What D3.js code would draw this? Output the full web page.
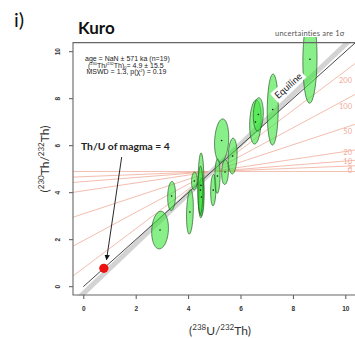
<!DOCTYPE html>
<html>
<head>
<meta charset="utf-8">
<script src="https://cdn.jsdelivr.net/npm/d3@7.9.0/dist/d3.min.js"></script>
<style>
  body { margin: 0; background: #fff; }
  svg { display: block; }
</style>
</head>
<body>
<svg id="chart" width="355" height="338"></svg>
<script>
// ─────────── DATA ───────────
// (238U/232Th) and (230Th/232Th) activity ratios with 1σ errors
const ratioU = [2.93, 3.37, 4.07, 4.24, 4.49, 4.51, 4.47, 4.96, 5.12, 5.28, 5.41, 5.70, 6.57, 6.68, 7.23, 8.65];
const ratioTh = [2.41, 3.86, 3.18, 4.50, 4.31, 3.82, 4.11, 4.11, 4.71, 6.22, 4.88, 5.56, 7.01, 7.33, 7.54, 9.68];
const errU = [0.32, 0.15, 0.13, 0.11, 0.115, 0.10, 0.095, 0.10, 0.10, 0.27, 0.13, 0.17, 0.22, 0.19, 0.21, 0.27];
const errTh = [0.80, 0.62, 0.94, 0.38, 1.38, 0.81, 1.02, 0.67, 0.74, 0.92, 0.53, 0.76, 0.94, 0.71, 1.51, 1.87];
const rho = [0.1, 0.1, 0.2, 0.1, 0.05, 0.05, 0.05, 0.1, 0.1, 0.15, 0.1, 0.1, 0.15, 0.1, 0.05, 0.05];

// model isochron ages (ka) through the initial ratio
const isoAges = [0, 5, 10, 20, 50, 100, 200];
const initialRatio = 4.9;
const fitSlope = 1.06;
const magmaThU = 4;

const tickValues = [0, 2, 4, 6, 8, 10];
const annotLines = ["age = NaN ± 571 ka (n=19)", "= 4.9 ± 15.5", "MSWD = 1.3, p(χ", ") = 0.19"];

const lambda230 = 9.1577e-6;          // per year
const uThFactor = 1.55125e-10 / 4.9475e-11;

// ─────────── SETUP ───────────
const svg = d3.select("#chart");
const x = d3.scaleLinear().domain([-0.4, 10.4]).range([72.8, 355.8]);
const y = d3.scaleLinear().domain([-0.4, 10.4]).range([296.1, 42.3]);

const defs = svg.append("defs");
defs.append("clipPath").attr("id", "plotClip")
  .append("rect").attr("x", 73).attr("y", 42.5).attr("width", 290).attr("height", 253);
defs.append("clipPath").attr("id", "ellClip")
  .append("rect").attr("x", 73).attr("y", 37).attr("width", 290).attr("height", 258);
defs.append("marker").attr("id", "arrowHead")
  .attr("viewBox", "0 0 10 10").attr("refX", 9).attr("refY", 5)
  .attr("markerWidth", 6).attr("markerHeight", 6).attr("orient", "auto")
  .append("path").attr("d", "M0,0 L10,5 L0,10 Z").attr("fill", "#111");

// ─────────── ISOCHRON REFERENCE LINES ───────────
const lines = svg.append("g").attr("clip-path", "url(#plotClip)");
const [x0, x1] = x.domain();

isoAges.forEach((age) => {
  const slope = 1 - Math.exp(-lambda230 * age * 1000);
  const f = (u) => initialRatio + slope * (u - initialRatio);
  lines.append("line")
    .attr("x1", x(x0)).attr("y1", y(f(x0)))
    .attr("x2", x(x1)).attr("y2", y(f(x1)))
    .attr("stroke", "#eea08a").attr("stroke-width", 0.8).attr("opacity", 0.85);
  svg.append("text")
    .attr("x", 352).attr("y", y(f(9.5)))
    .attr("text-anchor", "end").attr("dominant-baseline", "middle")
    .attr("font-family", "Lato, sans-serif").attr("font-size", 7.5)
    .attr("fill", "#f1ab98")
    .text(age);
});

// fit envelope and equiline
const fit = (u) => initialRatio + fitSlope * (u - initialRatio);
lines.append("line")
  .attr("x1", x(x0)).attr("y1", y(fit(x0)))
  .attr("x2", x(x1)).attr("y2", y(fit(x1)))
  .attr("stroke", "#c8c8c8").attr("stroke-width", 5).attr("opacity", 0.8);
lines.append("line")
  .attr("x1", x(0)).attr("y1", y(0))
  .attr("x2", x(x1)).attr("y2", y(x1))
  .attr("stroke", "#333").attr("stroke-width", 0.9);

// ─────────── ERROR ELLIPSES ───────────
const ell = svg.append("g").attr("clip-path", "url(#ellClip)");
const steps = d3.range(0, 2 * Math.PI, Math.PI / 40);
const ellLine = d3.line().curve(d3.curveLinearClosed);

ratioU.forEach((u, i) => {
  const r = rho[i];
  const pts = steps.map((t) => [
    x(u + errU[i] * Math.cos(t)),
    y(ratioTh[i] + errTh[i] * (r * Math.cos(t) + Math.sqrt(1 - r * r) * Math.sin(t)))
  ]);
  ell.append("path")
    .attr("d", ellLine(pts))
    .attr("fill", "#3be43b").attr("fill-opacity", 0.6)
    .attr("stroke", "#225522").attr("stroke-width", 0.8).attr("stroke-opacity", 0.85);
});
ratioU.forEach((u, i) => {
  ell.append("circle").attr("cx", x(u)).attr("cy", y(ratioTh[i])).attr("r", 0.8).attr("fill", "#111");
});

// ─────────── EQUILINE LABEL ───────────
const ang = Math.atan2(y(10) - y(0), x(10) - x(0)) * 180 / Math.PI;
const nx = -Math.sin(-ang * Math.PI / 180), ny = -Math.cos(-ang * Math.PI / 180);
const eqG = svg.append("g")
  .attr("transform", `translate(${x(8.15) + 12.9 * nx},${y(8.15) + 12.9 * ny}) rotate(${ang})`);
eqG.append("rect").attr("x", -19).attr("y", -6).attr("width", 38).attr("height", 12).attr("fill", "#fff");
eqG.append("text")
  .attr("text-anchor", "middle").attr("dominant-baseline", "central")
  .attr("font-family", "Lato, sans-serif").attr("font-size", 9.5).attr("fill", "#222")
  .text("Equiline");

// ─────────── MAGMA POINT ───────────
const magmaU = uThFactor / magmaThU;
svg.append("circle")
  .attr("cx", x(magmaU)).attr("cy", y(magmaU)).attr("r", 4.6)
  .attr("fill", "#ee1111");
svg.append("line")
  .attr("x1", 121.7).attr("y1", 157)
  .attr("x2", x(magmaU) + 2.7).attr("y2", y(magmaU) - 8.5)
  .attr("stroke", "#111").attr("stroke-width", 0.9)
  .attr("marker-end", "url(#arrowHead)");
svg.append("text")
  .attr("x", 81).attr("y", 149.5)
  .attr("font-family", "Lato, sans-serif").attr("font-size", 10.3).attr("font-weight", "bold")
  .attr("fill", "#222")
  .text("Th/U of magma = 4");

// ─────────── AXES & FRAME ───────────
const xAxis = svg.append("g").attr("transform", "translate(0,295)")
  .call(d3.axisBottom(x).tickValues(tickValues).tickSize(4).tickPadding(7));
const yAxis = svg.append("g").attr("transform", "translate(73,0)")
  .call(d3.axisLeft(y).tickValues(tickValues).tickSize(4));
[xAxis, yAxis].forEach((g) => {
  g.select(".domain").remove();
  g.selectAll("line").attr("stroke", "#555");
  g.selectAll("text").attr("font-family", "Liberation Sans, Arial, sans-serif")
    .attr("font-size", 6.5).attr("font-weight", "bold").attr("fill", "#333");
});
// rotate y tick labels to read bottom-to-top
yAxis.selectAll(".tick text")
  .attr("text-anchor", "middle").attr("dy", 0)
  .attr("x", (d) => -y(d)).attr("y", -13)
  .attr("transform", "rotate(-90)");
yAxis.selectAll(".tick").attr("transform", null);
yAxis.selectAll(".tick line").attr("y1", (d) => y(d)).attr("y2", (d) => y(d));

svg.append("path")
  .attr("d", "M356,42.6 H73 V295 H356")
  .attr("fill", "none").attr("stroke", "#666").attr("stroke-width", 1.1);

// ─────────── TEXT ───────────
const annot = svg.append("text")
  .attr("font-family", "Liberation Sans, Arial, sans-serif").attr("font-size", 7)
  .attr("fill", "#222");
annot.append("tspan").attr("x", 85).attr("y", 61).text(annotLines[0]);
const l2 = annot.append("tspan").attr("x", 88).attr("y", 67.6);
l2.append("tspan").text("(");
l2.append("tspan").attr("font-size", 4).attr("dy", -2.2).text("230");
l2.append("tspan").attr("dy", 2.2).text("Th/");
l2.append("tspan").attr("font-size", 4).attr("dy", -2.2).text("232");
l2.append("tspan").attr("dy", 2.2).text("Th)");
l2.append("tspan").attr("font-size", 4).attr("dy", 1.4).text("0");
l2.append("tspan").attr("dy", -1.4).text(annotLines[1]);
const l3 = annot.append("tspan").attr("x", 86.5).attr("y", 74);
l3.append("tspan").text(annotLines[2]);
l3.append("tspan").attr("font-size", 4).attr("dy", -2.4).text("2");
l3.append("tspan").attr("dy", 2.4).text(annotLines[3]);

svg.append("text").attr("x", 14).attr("y", 27)
  .attr("font-family", "Lato, sans-serif").attr("font-size", 20).attr("fill", "#111")
  .text("i)");
svg.append("text").attr("x", 78).attr("y", 33.5)
  .attr("font-family", "Lato, sans-serif").attr("font-size", 17).attr("font-weight", "bold")
  .attr("fill", "#111")
  .text("Kuro");
svg.append("text").attr("x", 275).attr("y", 36)
  .attr("font-family", "Lato, sans-serif").attr("font-size", 7.5).attr("fill", "#555")
  .attr("letter-spacing", 0.2)
  .text("uncertainties are 1σ");

// axis titles with superscript mass numbers
function isoLabel(sel, parts) {
  parts.forEach(([t, sup]) => {
    if (sup) sel.append("tspan").attr("font-size", 8).attr("dy", -4.5).text(t);
    else sel.append("tspan").attr("dy", sel.node().childNodes.length ? 4.5 : 0).text(t);
  });
}
const xt = svg.append("text").attr("x", 220).attr("y", 330)
  .attr("text-anchor", "middle").attr("font-family", "Lato, sans-serif")
  .attr("font-size", 12).attr("fill", "#333");
isoLabel(xt, [["(", 0], ["238", 1], ["U/", 0], ["232", 1], ["Th)", 0]]);
const yt = svg.append("text").attr("transform", "translate(44,159) rotate(-90)")
  .attr("text-anchor", "middle").attr("font-family", "Lato, sans-serif")
  .attr("font-size", 12).attr("fill", "#333");
isoLabel(yt, [["(", 0], ["230", 1], ["Th/", 0], ["232", 1], ["Th)", 0]]);
</script>
</body>
</html>
